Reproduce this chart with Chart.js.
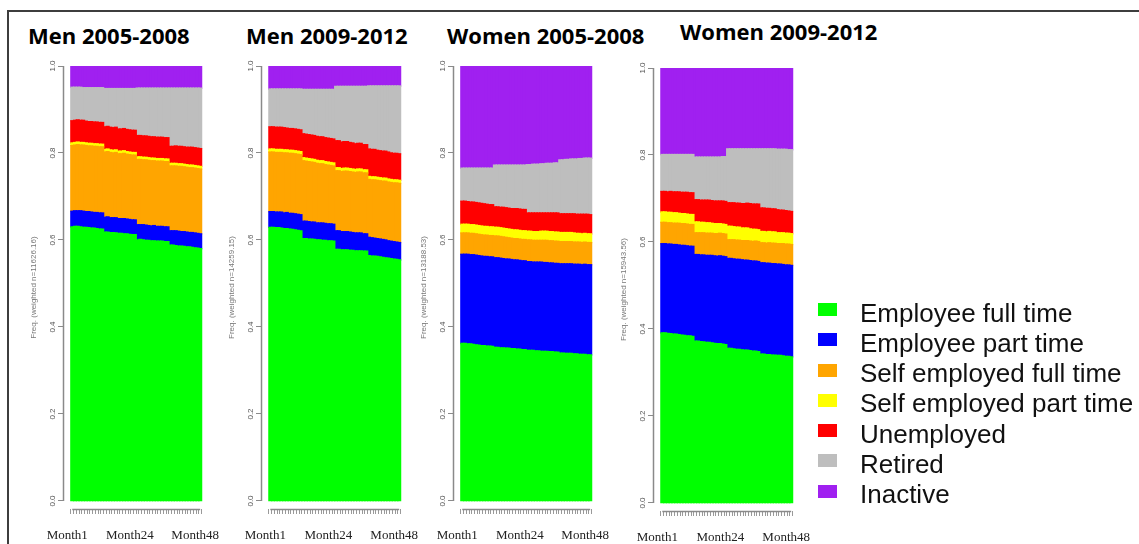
<!DOCTYPE html>
<html>
<head>
<meta charset="utf-8">
<title>Labour market status by month</title>
<script src="https://cdn.jsdelivr.net/npm/chart.js@4.4.1/dist/chart.umd.min.js"></script>
<style>
  html, body { margin: 0; padding: 0; background: #fff; }
  body { width: 1139px; height: 544px; position: relative; overflow: hidden; }
  .frame { position: absolute; left: 7px; top: 10px; width: 1300px; height: 700px;
           border-left: 2px solid #3d3d3d; border-top: 2px solid #3d3d3d; }
  .panel { position: absolute; top: 50px; }
  .title { position: absolute; font-family: "Open Sans", sans-serif; font-weight: 700;
           font-size: 22px; line-height: 22px; color: #000; white-space: nowrap; }
  .legend { position: absolute; left: 818px; top: 297.5px; }
  .legend .row { position: relative; height: 30.3px; line-height: 30.3px;
                 font-family: "Liberation Sans", Arial, sans-serif; font-size: 26px; color: #111; white-space: nowrap; }
  .legend .sw { position: absolute; left: 0; top: 5.5px; width: 19px; height: 13px; }
  .legend .tx { position: absolute; left: 42px; top: 0; }
</style>
</head>
<body>
<div class="frame"></div>
<div id="titles"></div>
<div id="panels"></div>
<div class="legend" id="legend"></div>

<script>
// ---- categories, labels and colours ----
const stateLabels = ['Employee full time', 'Employee part time', 'Self employed full time',
  'Self employed part time', 'Unemployed', 'Retired', 'Inactive'];
const stateColors = ['#00FF00', '#0000FF', '#FFA500', '#FFFF00', '#FF0000', '#BEBEBE', '#A020F0'];
const panelTitles = ['Men 2005-2008', 'Men 2009-2012', 'Women 2005-2008', 'Women 2009-2012'];
const axisTitles = ['Freq. (weighted n=11626.16)', 'Freq. (weighted n=14259.15)',
  'Freq. (weighted n=13188.53)', 'Freq. (weighted n=15943.56)'];
const months = Array.from({ length: 48 }, (_, i) => i + 1);
const yTicks = [0, 0.2, 0.4, 0.6, 0.8, 1];
const yTickLabels = ['0.0', '0.2', '0.4', '0.6', '0.8', '1.0'];
const xLabelMonths = [1, 24, 48];
const xLabelTexts = ['Month1', 'Month24', 'Month48'];

// ---- Men 2005-2008: share in each state, month 1..48 ----
const menA_eft  = [.630,.631,.631,.630,.629,.629,.628,.627,.627,.626,.625,.625, .618,.618,.617,.617,.616,.615,.615,.614,.614,.613,.612,.612, .600,.601,.600,.599,.599,.598,.598,.597,.597,.597,.596,.596, .588,.588,.587,.586,.586,.585,.584,.584,.583,.582,.581,.580];
const menA_ept  = [.036,.036,.036,.037,.037,.036,.037,.037,.036,.037,.037,.037, .034,.035,.034,.034,.035,.034,.034,.035,.034,.034,.034,.034, .035,.034,.035,.035,.034,.034,.035,.034,.034,.034,.034,.034, .033,.033,.034,.034,.033,.034,.034,.033,.034,.034,.034,.034];
const menA_seft = [.151,.151,.152,.151,.152,.152,.151,.152,.152,.152,.152,.152, .150,.150,.150,.149,.150,.149,.149,.150,.149,.149,.149,.149, .150,.150,.149,.150,.150,.150,.149,.150,.150,.150,.150,.150, .149,.149,.149,.149,.150,.149,.149,.149,.149,.149,.149,.149];
const menA_sept = [.006,.006,.006,.006,.006,.006,.006,.006,.006,.006,.006,.006, .006,.006,.006,.006,.006,.006,.006,.006,.006,.006,.006,.006, .006,.006,.006,.006,.006,.006,.006,.006,.006,.006,.006,.006, .006,.006,.006,.006,.006,.006,.006,.006,.006,.006,.006,.006];
const menA_une  = [.051,.051,.051,.051,.051,.050,.050,.050,.050,.050,.050,.050, .052,.052,.052,.052,.052,.051,.051,.051,.051,.051,.051,.051, .049,.049,.049,.049,.049,.049,.049,.049,.049,.049,.049,.049, .039,.039,.040,.040,.040,.040,.040,.041,.041,.041,.041,.041];
const menA_ret  = [.077,.076,.075,.076,.075,.077,.078,.078,.079,.079,.080,.080, .088,.087,.089,.090,.089,.093,.093,.092,.094,.095,.096,.096, .109,.109,.110,.110,.111,.112,.112,.113,.113,.113,.114,.114, .134,.134,.133,.134,.134,.135,.136,.136,.136,.137,.138,.139];
const menA_ina  = [.050,.050,.050,.050,.050,.050,.050,.050,.050,.050,.050,.050, .053,.053,.053,.053,.053,.053,.053,.053,.053,.053,.053,.053, .052,.052,.052,.052,.052,.052,.052,.052,.052,.052,.052,.052, .052,.052,.052,.052,.052,.052,.052,.052,.052,.052,.052,.052];

// ---- Men 2009-2012 ----
const menB_eft  = [.629,.629,.628,.628,.627,.626,.626,.625,.624,.623,.622,.621, .603,.603,.602,.602,.601,.600,.600,.599,.599,.598,.598,.597, .578,.578,.577,.577,.577,.576,.576,.575,.575,.575,.574,.574, .564,.563,.563,.562,.561,.560,.559,.558,.557,.556,.555,.554];
const menB_ept  = [.036,.036,.036,.036,.037,.036,.037,.036,.037,.037,.037,.037, .040,.040,.040,.039,.040,.039,.039,.040,.039,.039,.039,.039, .043,.043,.042,.042,.042,.042,.041,.041,.041,.041,.040,.040, .042,.042,.041,.041,.041,.041,.041,.040,.040,.040,.040,.040];
const menB_seft = [.137,.137,.137,.137,.137,.138,.137,.138,.138,.138,.138,.138, .139,.138,.138,.138,.137,.137,.136,.136,.135,.135,.134,.134, .138,.138,.138,.139,.139,.139,.139,.139,.140,.140,.140,.140, .133,.133,.134,.134,.134,.134,.135,.135,.135,.135,.136,.136];
const menB_sept = [.007,.007,.007,.007,.007,.007,.007,.007,.007,.007,.007,.007, .007,.007,.007,.007,.007,.007,.007,.007,.007,.007,.007,.007, .007,.007,.007,.007,.007,.007,.007,.007,.007,.007,.007,.007, .007,.007,.007,.007,.007,.007,.007,.007,.007,.007,.007,.007];
const menB_une  = [.051,.051,.051,.051,.051,.051,.050,.050,.050,.050,.050,.050, .055,.055,.055,.055,.055,.055,.055,.055,.055,.055,.055,.055, .062,.062,.061,.061,.061,.060,.060,.059,.059,.059,.058,.058, .063,.063,.063,.062,.062,.062,.062,.062,.061,.061,.061,.061];
const menB_ret  = [.087,.087,.088,.088,.088,.089,.090,.091,.091,.092,.093,.094, .102,.103,.104,.105,.106,.108,.109,.109,.111,.112,.113,.114, .125,.125,.128,.127,.127,.129,.130,.132,.131,.131,.134,.134, .145,.146,.146,.148,.149,.150,.150,.152,.154,.155,.155,.156];
const menB_ina  = [.054,.054,.054,.054,.054,.054,.054,.054,.054,.054,.054,.054, .055,.055,.055,.055,.055,.055,.055,.055,.055,.055,.055,.055, .048,.048,.048,.048,.048,.048,.048,.048,.048,.048,.048,.048, .047,.047,.047,.047,.047,.047,.047,.047,.047,.047,.047,.047];

// ---- Women 2005-2008 ----
const womA_eft  = [.362,.362,.361,.361,.360,.359,.358,.357,.357,.356,.356,.355, .353,.353,.352,.352,.351,.351,.350,.350,.349,.349,.348,.348, .346,.346,.346,.345,.345,.344,.344,.344,.343,.343,.342,.342, .340,.340,.339,.339,.339,.338,.338,.337,.337,.337,.336,.336];
const womA_ept  = [.205,.205,.206,.205,.206,.206,.206,.206,.205,.206,.205,.206, .206,.206,.206,.205,.205,.205,.205,.204,.205,.204,.204,.204, .204,.204,.203,.204,.204,.205,.204,.204,.204,.204,.204,.204, .205,.205,.206,.206,.206,.206,.206,.207,.206,.207,.207,.207];
const womA_seft = [.049,.049,.049,.049,.049,.049,.049,.049,.049,.049,.049,.049, .050,.050,.050,.050,.050,.049,.049,.049,.049,.049,.049,.049, .050,.050,.050,.050,.050,.050,.051,.051,.051,.051,.051,.051, .051,.051,.051,.051,.051,.051,.051,.051,.051,.051,.051,.051];
const womA_sept = [.020,.020,.020,.020,.020,.020,.020,.020,.020,.020,.020,.020, .020,.020,.020,.020,.020,.020,.020,.020,.020,.020,.020,.020, .020,.020,.020,.020,.020,.021,.021,.021,.021,.021,.021,.021, .021,.021,.021,.021,.021,.021,.020,.020,.020,.020,.020,.020];
const womA_une  = [.053,.053,.052,.052,.052,.052,.052,.052,.052,.051,.051,.051, .047,.047,.047,.048,.048,.048,.048,.049,.049,.049,.049,.049, .042,.042,.043,.043,.043,.042,.042,.042,.043,.043,.044,.044, .043,.043,.043,.043,.043,.044,.044,.044,.045,.044,.045,.044];
const womA_ret  = [.076,.076,.077,.078,.078,.079,.080,.081,.082,.083,.084,.084, .096,.096,.097,.097,.098,.099,.100,.100,.100,.101,.102,.102, .111,.111,.112,.112,.112,.113,.113,.114,.114,.114,.115,.115, .124,.124,.125,.125,.126,.126,.127,.128,.128,.129,.129,.130];
const womA_ina  = [.236,.236,.236,.236,.236,.236,.236,.236,.236,.236,.236,.236, .229,.229,.229,.229,.229,.229,.229,.229,.229,.229,.229,.229, .228,.228,.227,.227,.227,.226,.226,.225,.225,.225,.224,.224, .217,.217,.216,.216,.215,.215,.215,.214,.214,.213,.213,.213];

// ---- Women 2009-2012 ----
const womB_eft  = [.391,.391,.390,.389,.388,.388,.387,.386,.385,.384,.384,.383, .372,.372,.371,.370,.369,.369,.368,.367,.366,.366,.365,.364, .355,.355,.354,.353,.353,.352,.351,.351,.350,.349,.349,.348, .342,.342,.341,.341,.340,.340,.339,.339,.338,.337,.337,.336];
const womB_ept  = [.205,.205,.205,.206,.206,.206,.206,.206,.207,.207,.206,.207, .199,.199,.199,.200,.200,.200,.201,.201,.201,.202,.202,.202, .207,.207,.207,.207,.207,.207,.207,.207,.207,.207,.207,.207, .210,.210,.210,.210,.210,.210,.210,.210,.210,.210,.210,.210];
const womB_seft = [.049,.049,.049,.049,.049,.049,.050,.050,.050,.050,.050,.050, .050,.050,.051,.051,.051,.051,.051,.051,.052,.052,.052,.052, .043,.043,.044,.044,.044,.044,.045,.045,.045,.045,.046,.046, .046,.046,.046,.047,.047,.047,.047,.047,.048,.048,.048,.048];
const womB_sept = [.024,.024,.024,.024,.024,.024,.023,.023,.023,.023,.023,.023, .025,.025,.024,.024,.024,.024,.023,.023,.023,.022,.022,.022, .031,.031,.030,.030,.030,.029,.029,.029,.028,.028,.027,.027, .026,.026,.026,.026,.026,.026,.025,.025,.025,.025,.025,.025];
const womB_une  = [.047,.047,.047,.048,.048,.048,.049,.049,.049,.050,.050,.050, .051,.051,.051,.051,.052,.052,.052,.052,.052,.052,.053,.053, .054,.054,.055,.055,.055,.056,.056,.057,.058,.058,.058,.059, .054,.054,.054,.053,.053,.053,.053,.052,.052,.052,.051,.051];
const womB_ret  = [.085,.085,.086,.085,.086,.086,.086,.087,.087,.087,.088,.088, .098,.098,.099,.099,.099,.099,.100,.101,.101,.101,.102,.103, .124,.124,.124,.125,.125,.126,.126,.125,.126,.127,.127,.127, .136,.136,.137,.137,.138,.138,.139,.140,.140,.141,.141,.142];
const womB_ina  = [.200,.200,.200,.200,.200,.200,.200,.200,.200,.200,.200,.200, .206,.206,.206,.206,.206,.206,.206,.206,.206,.206,.205,.205, .187,.187,.187,.187,.187,.187,.187,.187,.187,.187,.187,.187, .187,.187,.187,.187,.187,.187,.188,.188,.188,.188,.189,.189];

const panelSeries = [
  [menA_eft, menA_ept, menA_seft, menA_sept, menA_une, menA_ret, menA_ina],
  [menB_eft, menB_ept, menB_seft, menB_sept, menB_une, menB_ret, menB_ina],
  [womA_eft, womA_ept, womA_seft, womA_sept, womA_une, womA_ret, womA_ina],
  [womB_eft, womB_ept, womB_seft, womB_sept, womB_une, womB_ret, womB_ina]
];

// ---- page layout ----
const panelLeft = [2, 200, 392, 592];     // canvas left edge
const plotRight = [203, 402, 593, 794];   // right edge of last bar
const padTop = [16, 16, 16, 18];          // puts 1.0 at the top of the plot
const xAxisH = [35, 35, 35, 33];
const titleLeft = [28, 246, 447, 680];
const titleTop = [24, 24, 24, 20];
const canvasTop = 50, canvasH = 494, padLeft = 27, padRight = 40, yAxisW = 35;

// R-style axis lines: y from 0 to 1, x from first to last month
const axisLines = {
  id: 'axisLines',
  afterDatasetsDraw(chart) {
    const { ctx, chartArea, scales: { x, y } } = chart;
    ctx.save();
    ctx.strokeStyle = '#8a8a8a';
    ctx.lineWidth = 1.5;
    ctx.beginPath();
    ctx.moveTo(chartArea.left - 0.5, y.getPixelForValue(yTicks[0]));
    ctx.lineTo(chartArea.left - 0.5, y.getPixelForValue(yTicks[yTicks.length - 1]));
    ctx.moveTo(x.getPixelForValue(months[0]), chartArea.bottom + 0.5);
    ctx.lineTo(x.getPixelForValue(months[months.length - 1]), chartArea.bottom + 0.5);
    ctx.stroke();
    ctx.restore();
  }
};

const titlesEl = document.getElementById('titles');
const panelsEl = document.getElementById('panels');

panelTitles.forEach((t, i) => {
  const d = document.createElement('div');
  d.className = 'title';
  d.style.left = titleLeft[i] + 'px';
  d.style.top = titleTop[i] + 'px';
  d.textContent = t;
  titlesEl.appendChild(d);
});

panelSeries.forEach((series, i) => {
  const cv = document.createElement('canvas');
  const w = plotRight[i] - panelLeft[i] + padRight;
  cv.width = w; cv.height = canvasH;
  cv.style.width = w + 'px'; cv.style.height = canvasH + 'px';
  cv.className = 'panel';
  cv.style.left = panelLeft[i] + 'px';
  cv.style.top = canvasTop + 'px';
  panelsEl.appendChild(cv);

  new Chart(cv, {
    type: 'bar',
    data: {
      labels: months,
      datasets: series.map((vals, k) => ({
        label: stateLabels[k],
        data: vals,
        backgroundColor: stateColors[k],
        borderWidth: 0,
        barPercentage: 1,
        categoryPercentage: 1,
        inflateAmount: 0.7,
        clip: 0
      }))
    },
    options: {
      responsive: false,
      animation: false,
      devicePixelRatio: 1,
      events: [],
      layout: { padding: { left: padLeft, right: padRight, top: padTop[i], bottom: 0 } },
      plugins: { legend: { display: false }, tooltip: { enabled: false } },
      scales: {
        x: {
          type: 'linear', stacked: true, min: -1.5, max: 48.5,
          afterBuildTicks: s => { s.ticks = months.map(v => ({ value: v })); },
          afterFit: s => { s.height = xAxisH[i]; },
          border: { display: false },
          grid: { drawOnChartArea: false, drawTicks: true, tickLength: 5, color: '#9a9a9a', lineWidth: 1 },
          ticks: {
            autoSkip: false, maxRotation: 0, minRotation: 0, padding: 14, labelOffset: -5,
            color: '#222', font: { family: '"Liberation Serif", "DejaVu Serif", serif', size: 13 },
            callback: v => { const k = xLabelMonths.indexOf(v); return k < 0 ? '' : xLabelTexts[k]; }
          }
        },
        y: {
          stacked: true, min: -0.0184, max: 1,
          afterBuildTicks: s => { s.ticks = yTicks.map(v => ({ value: v })); },
          afterFit: s => { s.width = yAxisW; },
          border: { display: false },
          grid: { drawOnChartArea: false, drawTicks: true, tickLength: 6, color: '#8a8a8a', lineWidth: 1 },
          ticks: {
            minRotation: 90, maxRotation: 90, crossAlign: 'center', padding: 0,
            color: '#555', font: { family: '"Liberation Sans", Arial, sans-serif', size: 8 },
            callback: v => { const k = yTicks.indexOf(v); return k < 0 ? '' : yTickLabels[k]; }
          },
          title: {
            display: true, text: axisTitles[i], color: '#777', padding: 0,
            font: { family: '"Liberation Sans", Arial, sans-serif', size: 8 }
          }
        }
      }
    },
    plugins: [axisLines]
  });
});

// legend built from the same labels and colours
const legendEl = document.getElementById('legend');
stateLabels.forEach((lab, k) => {
  const row = document.createElement('div');
  row.className = 'row';
  const sw = document.createElement('span');
  sw.className = 'sw';
  sw.style.background = stateColors[k];
  const tx = document.createElement('span');
  tx.className = 'tx';
  tx.textContent = lab;
  row.appendChild(sw);
  row.appendChild(tx);
  legendEl.appendChild(row);
});
</script>
</body>
</html>
